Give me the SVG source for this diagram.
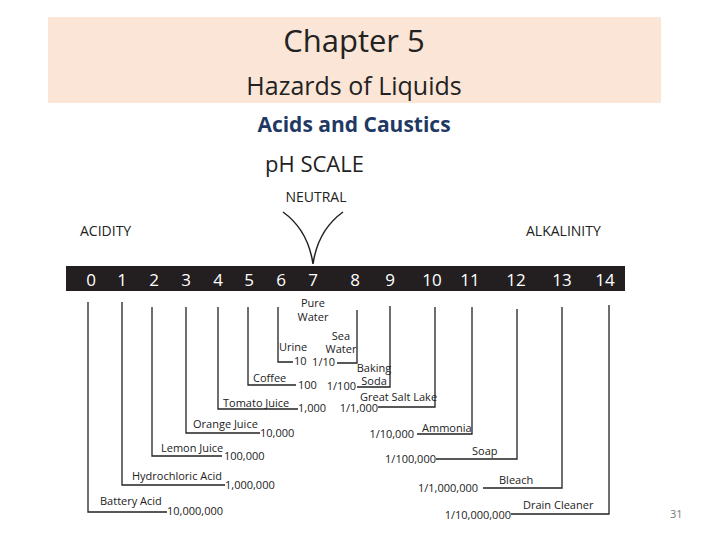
<svg xmlns="http://www.w3.org/2000/svg" width="720" height="540" viewBox="0 0 720 540">
<style>
text{font-family:"Open Sans","Liberation Sans",sans-serif;fill:#222}
.n{fill:#fff;font-size:17px;text-anchor:middle}
.l{font-size:11px}
.e{text-anchor:end}
.m{text-anchor:middle}
.c path{fill:none;stroke:#222;stroke-width:1.3}
</style>
<rect width="720" height="540" fill="#fff"/>
<g id="title">
<rect x="48" y="17" width="613" height="86" fill="#fbe5d6"/>
<text x="354" y="52" font-size="31" class="m">Chapter 5</text>
<text x="354" y="95" font-size="25" class="m">Hazards of Liquids</text>
</g>
<text x="354" y="132" font-size="21" font-weight="bold" class="m" style="fill:#1f3864">Acids and Caustics</text>
<text x="265" y="172" font-size="22">pH SCALE</text>
<text x="316" y="202" font-size="14" class="m">NEUTRAL</text>
<text x="80" y="236" font-size="14">ACIDITY</text>
<text x="526" y="236" font-size="14">ALKALINITY</text>
<path d="M283 212 Q308 230 313 264 Q318 230 343 212" fill="none" stroke="#222" stroke-width="1.5"/>
<g id="bar">
<rect x="66" y="266" width="559" height="25" fill="#231f20"/>
<text class="n" x="91" y="286">0</text><text class="n" x="122" y="286">1</text><text class="n" x="154" y="286">2</text><text class="n" x="186" y="286">3</text><text class="n" x="218" y="286">4</text><text class="n" x="249" y="286">5</text><text class="n" x="281" y="286">6</text><text class="n" x="313" y="286">7</text><text class="n" x="355" y="286">8</text><text class="n" x="390" y="286">9</text><text class="n" x="432" y="286">10</text><text class="n" x="470" y="286">11</text><text class="n" x="516" y="286">12</text><text class="n" x="562" y="286">13</text><text class="n" x="605" y="286">14</text>
</g>
<g class="c" id="connectors">
<path d="M88 302V512H167"/><path d="M122 302V485H225"/><path d="M152 307V456H222"/><path d="M186 307V433H260"/><path d="M218 307V409H298"/><path d="M248 307V385H296"/><path d="M278 307V362H293"/>
<path d="M357 310V363H337"/><path d="M390 306V387H357"/><path d="M435 307V407H378"/><path d="M472 307V434H417"/><path d="M517 309V459H436"/><path d="M562 307V488H483"/><path d="M609 305V514H511"/>
</g>
<g id="labels" class="l">
<text x="100" y="505">Battery Acid</text><text x="167" y="515">10,000,000</text>
<text x="132" y="480">Hydrochloric Acid</text><text x="225" y="489">1,000,000</text>
<text x="161" y="452">Lemon Juice</text><text x="224" y="460">100,000</text>
<text x="193" y="428">Orange Juice</text><text x="260" y="437">10,000</text>
<text x="223" y="407">Tomato Juice</text><text x="298" y="412">1,000</text>
<text x="253" y="382">Coffee</text><text x="298" y="389">100</text>
<text x="279" y="351">Urine</text><text x="294" y="365">10</text>
<text x="313" y="307" class="m">Pure</text><text x="313" y="321" class="m">Water</text>
<text x="341" y="340" class="m">Sea</text><text x="341" y="353" class="m">Water</text><text x="335" y="366" class="e">1/10</text>
<text x="374" y="372" class="m">Baking</text><text x="374" y="385" class="m">Soda</text><text x="356" y="390" class="e">1/100</text>
<text x="360" y="401">Great Salt Lake</text><text x="378" y="412" class="e">1/1,000</text>
<text x="422" y="432">Ammonia</text><text x="414" y="438" class="e">1/10,000</text>
<text x="472" y="455">Soap</text><text x="436" y="463" class="e">1/100,000</text>
<text x="499" y="484">Bleach</text><text x="478" y="492" class="e">1/1,000,000</text>
<text x="523" y="509">Drain Cleaner</text><text x="511" y="519" class="e">1/10,000,000</text>
</g>
<text x="670" y="518" font-size="11" style="fill:#777">31</text>
</svg>
